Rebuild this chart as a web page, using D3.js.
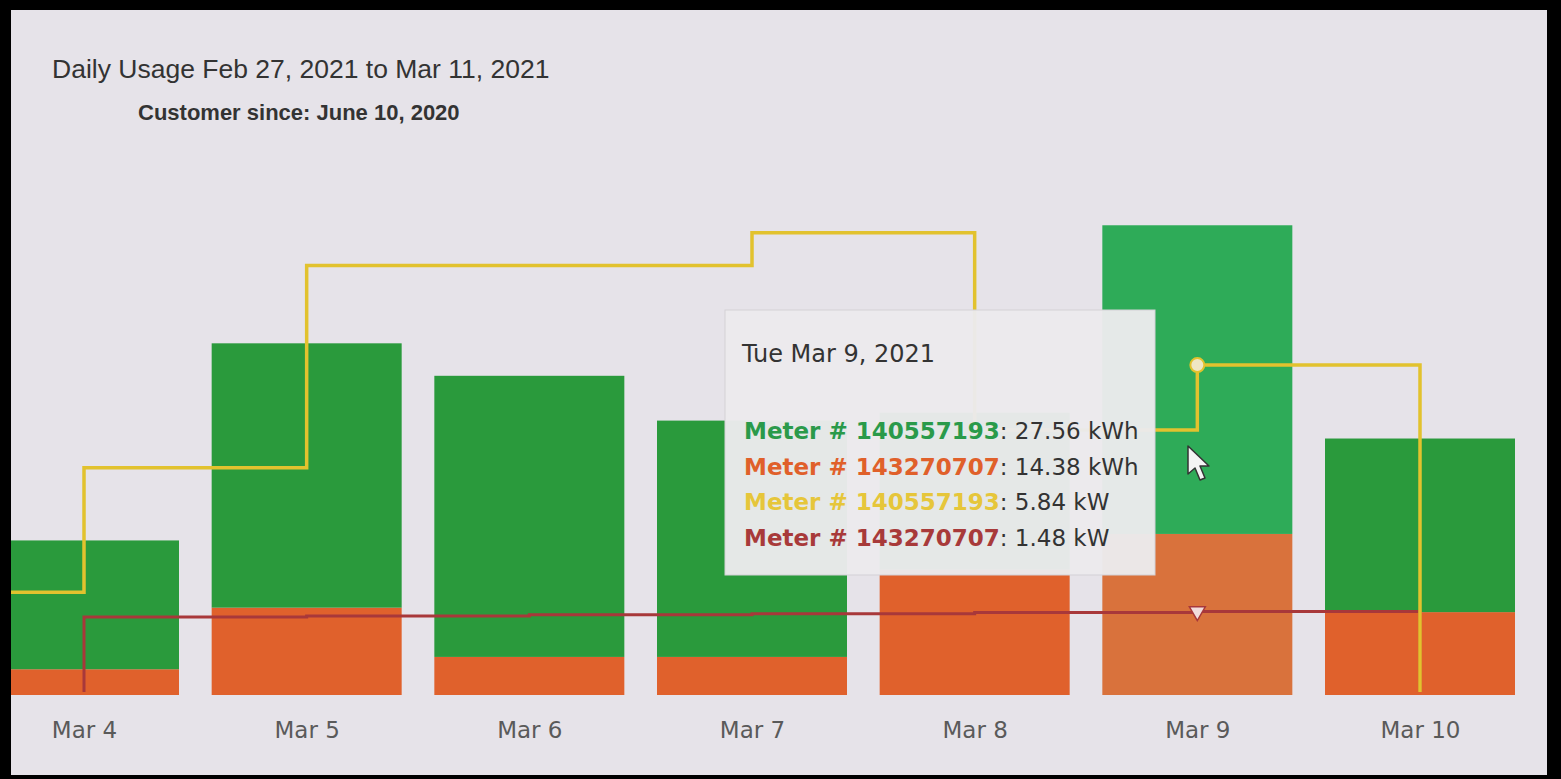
<!DOCTYPE html>
<html>
<head>
<meta charset="utf-8">
<script src="https://cdn.jsdelivr.net/npm/d3@7"></script>
<style>
  body { margin: 0; background: #000; }
  svg { display: block; }
</style>
</head>
<body>
<div id="chart"></div>
<script>
// dimensions
var width = 1561;
var height = 779;

// daily usage (kWh), stacked bars
var days = [4, 5, 6, 7, 8, 9, 10];
var dayLabels = ["Mar 4", "Mar 5", "Mar 6", "Mar 7", "Mar 8", "Mar 9", "Mar 10"];
var meterA_kWh = [11.5, 23.6, 25.1, 21.1, 14.0, 27.56, 15.5];   // 140557193 (green)
var meterB_kWh = [2.3, 7.8, 3.4, 3.4, 11.2, 14.38, 7.4];        // 143270707 (orange)

// peak demand (kW), step lines
var kwDays = [3, 4, 5, 6, 7, 8, 9, 10];
var meterA_kW = [1.82, 4.02, 7.6, 7.6, 8.18, 4.69, 5.84, 0];   // yellow
var meterB_kW = [0, 1.38, 1.40, 1.42, 1.44, 1.46, 1.48, 0];    // dark red

var hoverDay = 9;

var svg = d3.select("#chart")
    .append("svg")
    .attr("width", width)
    .attr("height", height);

// chart background inside the black frame
svg.append("rect")
    .attr("x", 11).attr("y", 10)
    .attr("width", 1536).attr("height", 765)
    .attr("fill", "#e6e3e9");

svg.append("clipPath")
    .attr("id", "plotClip")
    .append("rect")
    .attr("x", 11).attr("y", 10)
    .attr("width", 1536).attr("height", 765);

// lines are hidden under the baseline where the value is 0
svg.append("clipPath")
    .attr("id", "lineClip")
    .append("rect")
    .attr("x", 11).attr("y", 10)
    .attr("width", 1536).attr("height", 682);

var x = d3.scaleLinear().domain([4, 10]).range([84, 1420]);
var y = d3.scaleLinear().domain([0, 40]).range([695, 247]);
var yKw = d3.scaleLinear().domain([0, 8]).range([695, 243]);
var barWidth = 190;

// titles
svg.append("text")
    .attr("x", 52).attr("y", 78)
    .attr("font-family", "Liberation Sans, Arial, sans-serif")
    .attr("font-size", "26.5px")
    .attr("fill", "#333")
    .text("Daily Usage Feb 27, 2021 to Mar 11, 2021");

svg.append("text")
    .attr("x", 138).attr("y", 120)
    .attr("font-family", "Liberation Sans, Arial, sans-serif")
    .attr("font-size", "22px")
    .attr("font-weight", 700)
    .attr("fill", "#333")
    .text("Customer since: June 10, 2020");

var plot = svg.append("g").attr("clip-path", "url(#plotClip)");

// stacked bars
var table = days.map(function (d, i) {
    return { day: d, b: meterB_kWh[i], a: meterA_kWh[i] };
});
var series = d3.stack().keys(["b", "a"])(table);
var colors = { b: "#e0612c", a: "#2a9a3c" };
var hoverColors = { b: "#d9723c", a: "#2eab58" };

plot.selectAll(".series")
    .data(series)
    .enter()
    .append("g")
    .attr("class", "series")
    .each(function (s) {
        d3.select(this).selectAll("rect")
            .data(s)
            .enter()
            .append("rect")
            .attr("x", function (d) { return x(d.data.day) - barWidth / 2; })
            .attr("y", function (d) { return y(d[1]); })
            .attr("width", barWidth)
            .attr("height", function (d) { return y(d[0]) - y(d[1]); })
            .attr("fill", function (d) {
                return d.data.day == hoverDay ? hoverColors[s.key] : colors[s.key];
            });
    });

// step lines
function stepLine(values) {
    return d3.line()
        .x(function (d, i) { return x(kwDays[i]); })
        .y(function (d) { return yKw(d); })
        .curve(d3.curveStepAfter)(values);
}

var lines = svg.append("g").attr("clip-path", "url(#lineClip)");

lines.append("path")
    .attr("d", stepLine(meterB_kW))
    .attr("fill", "none")
    .attr("stroke", "#a8383a")
    .attr("stroke-width", 3);

lines.append("path")
    .attr("d", stepLine(meterA_kW))
    .attr("fill", "none")
    .attr("stroke", "#e2c22e")
    .attr("stroke-width", 3.5);

// x axis labels
var xAxis = svg.append("g")
    .attr("transform", "translate(0,710)")
    .call(d3.axisBottom(x)
        .tickValues(days)
        .tickSize(0)
        .tickPadding(12)
        .tickFormat(function (d, i) { return dayLabels[i]; }));
xAxis.select(".domain").remove();
xAxis.selectAll("text")
    .attr("font-family", "DejaVu Sans, Verdana, sans-serif")
    .attr("font-size", "23px")
    .attr("fill", "#5a5a5a");

// hover markers
var hi = kwDays.indexOf(hoverDay);
svg.append("circle")
    .attr("cx", x(hoverDay))
    .attr("cy", yKw(meterA_kW[hi]))
    .attr("r", 7)
    .attr("fill", "#efe6c4")
    .attr("stroke", "#e2c22e")
    .attr("stroke-width", 2);

svg.append("path")
    .attr("d", d3.symbol().type(d3.symbolTriangle).size(110)())
    .attr("transform", "translate(" + x(hoverDay) + "," + yKw(meterB_kW[hi]) + ") rotate(180)")
    .attr("fill", "#f1dcdc")
    .attr("stroke", "#a8383a")
    .attr("stroke-width", 1.5);

// tooltip
var tip = svg.append("g").attr("transform", "translate(725,310)");
tip.append("rect")
    .attr("width", 430).attr("height", 265)
    .attr("fill", "#ebeaec")
    .attr("fill-opacity", 0.97)
    .attr("stroke", "#d3d1d6")
    .attr("stroke-width", 1);

tip.append("text")
    .attr("x", 17).attr("y", 52)
    .attr("font-family", "DejaVu Sans, Verdana, sans-serif")
    .attr("font-size", "24px")
    .attr("fill", "#333")
    .text("Tue Mar 9, 2021");

var bi = days.indexOf(hoverDay);
var tipRows = [
    { meter: "140557193", color: "#2a9a4a", value: meterA_kWh[bi].toFixed(2) + " kWh" },
    { meter: "143270707", color: "#e0602a", value: meterB_kWh[bi].toFixed(2) + " kWh" },
    { meter: "140557193", color: "#e6c63a", value: meterA_kW[hi].toFixed(2) + " kW" },
    { meter: "143270707", color: "#a83a3a", value: meterB_kW[hi].toFixed(2) + " kW" }
];

tipRows.forEach(function (r, i) {
    var t = tip.append("text")
        .attr("x", 19).attr("y", 129 + i * 35.5)
        .attr("font-family", "DejaVu Sans, Verdana, sans-serif")
        .attr("font-size", "23px");
    t.append("tspan")
        .attr("fill", r.color)
        .attr("font-weight", 700)
        .text("Meter # " + r.meter);
    t.append("tspan")
        .attr("fill", "#333")
        .text(": " + r.value);
});

// mouse pointer
svg.append("path")
    .attr("d", "M1188,446 L1188,474 L1195,468 L1200,480 L1205,478 L1200,466 L1209,466 Z")
    .attr("fill", "#f4f4f4")
    .attr("stroke", "#333")
    .attr("stroke-width", 1.5)
    .attr("stroke-linejoin", "round");
</script>
</body>
</html>
